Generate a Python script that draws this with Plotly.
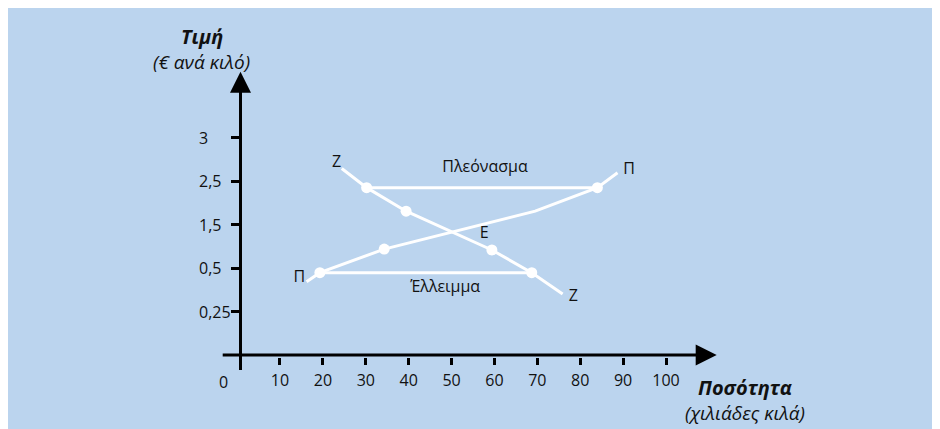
import plotly.graph_objects as go

W, H = 940, 429

# ---------------- data ----------------
quantity_ticks = [10, 20, 30, 40, 50, 60, 70, 80, 90, 100]
price_tick_pos = [1, 2, 3, 4, 5]
price_tick_labels = ["0,25", "0,5", "1,5", "2,5", "3"]

# demand curve Ζ (quantity, price-axis position)
demand_x = [24.4, 30.2, 39.4, 59.4, 68.7, 75.9]
demand_y = [4.29, 3.85, 3.31, 2.42, 1.90, 1.41]
demand_dots = [1, 2, 3, 4]

# supply curve Π
supply_x = [16.2, 19.3, 34.3, 69.5, 84.0, 88.7]
supply_y = [1.69, 1.90, 2.44, 3.31, 3.85, 4.19]
supply_dots = [1, 2, 4]

# surplus (Πλεόνασμα) and shortage (Έλλειμμα) segments
surplus_x = [30.2, 84.0]
surplus_y = [3.85, 3.85]
deficit_x = [19.3, 68.7]
deficit_y = [1.90, 1.90]

label_text = ["Ζ", "Ζ", "Π", "Π", "Ε", "Πλεόνασμα", "Έλλειμμα"]
label_x = [23.2, 78.4, 14.5, 91.4, 57.6, 57.8, 48.5]
label_y = [4.41, 1.35, 1.77, 4.26, 2.79, 4.29, 1.54]

# ---------------- styling ----------------
BG = "rgb(187,212,238)"
INK = "#111111"
FONT = "Open Sans"
OFF = 8  # page body margin in pixels

# axis geometry in screen pixels
px_x0, px_x_per = 237.1, 4.289      # pixel of quantity 0, pixels per unit
px_y0, px_y_per = 355.5, 43.6       # pixel of price position 0, pixels per unit
x_dom_px = (222, 724)               # plotting region (left, right)
y_dom_px = (372, 66)                # plotting region (bottom, top)
x_line_px = 355                     # horizontal axis line
y_line_px = 240.5                   # vertical axis line
x_line_span = (222.7, 704)
y_line_span = (370, 84)
x_arrow_tip = 716.7
y_arrow_tip = 71.7


def xd(px):
    return (px - px_x0) / px_x_per


def yd(py):
    return (px_y0 - py) / px_y_per


def fx(px):
    return (px - OFF) / W


def fy(py):
    return 1 - (py - OFF) / H


fig = go.Figure()

line_style = dict(color="white", width=3)
for xs, ys in [(demand_x, demand_y), (supply_x, supply_y),
               (surplus_x, surplus_y), (deficit_x, deficit_y)]:
    fig.add_trace(go.Scatter(x=xs, y=ys, mode="lines", line=line_style,
                             hoverinfo="skip", showlegend=False))

dot_x = [demand_x[i] for i in demand_dots] + [supply_x[i] for i in supply_dots]
dot_y = [demand_y[i] for i in demand_dots] + [supply_y[i] for i in supply_dots]
fig.add_trace(go.Scatter(x=dot_x, y=dot_y, mode="markers",
                         marker=dict(color="white", size=11),
                         hoverinfo="skip", showlegend=False))

fig.add_trace(go.Scatter(x=label_x, y=label_y, mode="text", text=label_text,
                         textfont=dict(family=FONT, size=16, color=INK),
                         textposition="middle center", cliponaxis=False,
                         hoverinfo="skip", showlegend=False))

# axis arrowheads
fig.add_trace(go.Scatter(x=[xd(x_arrow_tip), xd(y_line_px)],
                         y=[yd(x_line_px), yd(y_arrow_tip)],
                         mode="markers", cliponaxis=False,
                         marker=dict(symbol=["arrow-right", "arrow-up"], size=21,
                                     color="black", line=dict(width=0)),
                         hoverinfo="skip", showlegend=False))

axis_common = dict(showline=False, ticks="outside", tickcolor="black",
                   showgrid=False, zeroline=False,
                   tickfont=dict(family=FONT, size=16, color=INK), anchor="free",
                   automargin=False)


def ann(text, px, py, size, xanchor="center"):
    return dict(text=text, x=fx(px), y=fy(py), xref="paper", yref="paper",
                xanchor=xanchor, yanchor="middle", showarrow=False,
                font=dict(family=FONT, size=size, color=INK))


annotations = [
    ann("<b><i>Τιμή</i></b>", 201.7, 36.7, 20),
    ann("<i>(€ ανά κιλό)</i>", 201.7, 61.7, 19),
    ann("<b><i>Ποσότητα</i></b>", 745, 387.3, 20),
    ann("<i>(χιλιάδες κιλά)</i>", 745, 413.3, 19),
    ann("0", 223.3, 381.7, 16),
]
# price tick labels are left-aligned in the reference
for pos, lab in zip(price_tick_pos, price_tick_labels):
    annotations.append(dict(text=lab, x=fx(196.7), y=pos, xref="paper", yref="y",
                            xanchor="left", yanchor="middle", showarrow=False,
                            font=dict(family=FONT, size=16, color=INK)))

axis_lines = [
    dict(type="line", xref="x", yref="y",
         x0=xd(x_line_span[0]), x1=xd(x_line_span[1]),
         y0=yd(x_line_px), y1=yd(x_line_px),
         line=dict(color="black", width=3), layer="above"),
    dict(type="line", xref="x", yref="y",
         x0=xd(y_line_px), x1=xd(y_line_px),
         y0=yd(y_line_span[0]), y1=yd(y_line_span[1]),
         line=dict(color="black", width=3), layer="above"),
]

fig.update_layout(
    width=W, height=H, autosize=False,
    margin=dict(l=0, r=0, t=0, b=0),
    paper_bgcolor=BG, plot_bgcolor="rgba(0,0,0,0)",
    font=dict(family=FONT, color=INK),
    xaxis=dict(domain=[fx(x_dom_px[0]), fx(x_dom_px[1])],
               range=[xd(x_dom_px[0]), xd(x_dom_px[1])],
               position=fy(x_line_px + 1.5), side="bottom",
               tickvals=quantity_ticks, ticklen=7, tickwidth=2.5,
               ticklabelstandoff=2,
               **axis_common),
    yaxis=dict(domain=[fy(y_dom_px[0]), fy(y_dom_px[1])],
               range=[yd(y_dom_px[0]), yd(y_dom_px[1])],
               position=fx(y_line_px - 1.5), side="left",
               tickvals=price_tick_pos, showticklabels=False,
               ticklen=8, tickwidth=2.5,
               **axis_common),
    shapes=axis_lines,
    annotations=annotations,
)

fig.write_html("out.html")
